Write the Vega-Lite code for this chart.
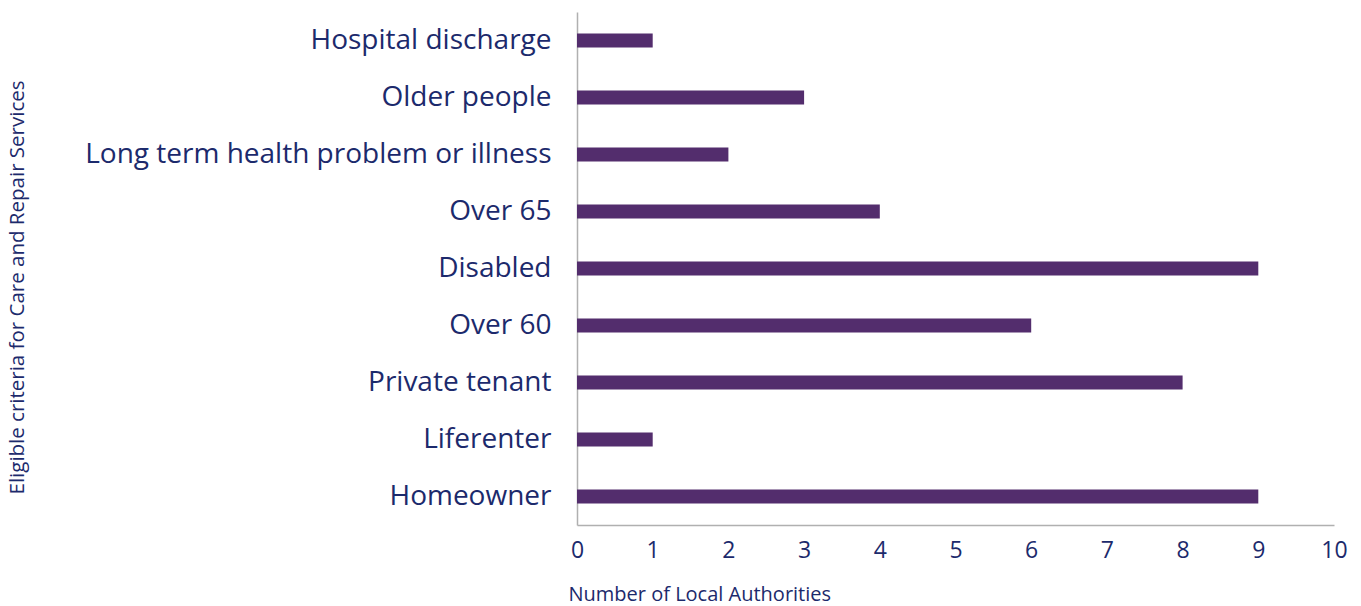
{
  "$schema": "https://vega.github.io/schema/vega-lite/v6.json",
  "autosize": {"type": "none"},
  "padding": {"left": 577, "top": 12, "right": 27, "bottom": 81},
  "width": 757,
  "height": 513,
  "background": "white",
  "config": {"view": {"stroke": null}},
  "data": {"values": [
    {"criterion": "Hospital discharge", "count": 1},
    {"criterion": "Older people", "count": 3},
    {"criterion": "Long term health problem or illness", "count": 2},
    {"criterion": "Over 65", "count": 4},
    {"criterion": "Disabled", "count": 9},
    {"criterion": "Over 60", "count": 6},
    {"criterion": "Private tenant", "count": 8},
    {"criterion": "Liferenter", "count": 1},
    {"criterion": "Homeowner", "count": 9}
  ]},
  "mark": {"type": "bar", "color": "#532d6d", "size": 14},
  "encoding": {
    "y": {
      "field": "criterion", "type": "nominal", "sort": null,
      "scale": {"paddingInner": 0, "paddingOuter": 0},
      "axis": {
        "title": "Eligible criteria for Care and Repair Services",
        "titleFont": "Open Sans", "titleFontSize": 20.5, "titleFontWeight": "normal", "titleColor": "#1c2a6c",
        "titleAngle": -90, "titleX": -560, "titleY": 275, "titleAlign": "center", "titleBaseline": "middle",
        "labelFont": "Open Sans", "labelFontSize": 28, "labelColor": "#1c2a6c", "labelPadding": 26,
        "labelLimit": 600,
        "ticks": false, "grid": false, "domainColor": "#b0b0b0", "domainWidth": 1.5
      }
    },
    "x": {
      "field": "count", "type": "quantitative",
      "scale": {"domain": [0, 10], "nice": false},
      "axis": {
        "title": "Number of Local Authorities",
        "titleFont": "Open Sans", "titleFontSize": 20, "titleFontWeight": "normal", "titleColor": "#1c2a6c",
        "titleAnchor": "start", "titleAlign": "left", "titleX": -9, "titleY": 75, "titleBaseline": "alphabetic",
        "values": [0,1,2,3,4,5,6,7,8,9,10], "format": "d", "labelFlush": false,
        "labelFont": "Open Sans", "labelFontSize": 23, "labelColor": "#1c2a6c", "labelPadding": 14,
        "ticks": false, "grid": false, "domainColor": "#b0b0b0", "domainWidth": 1.5
      }
    }
  }
}
